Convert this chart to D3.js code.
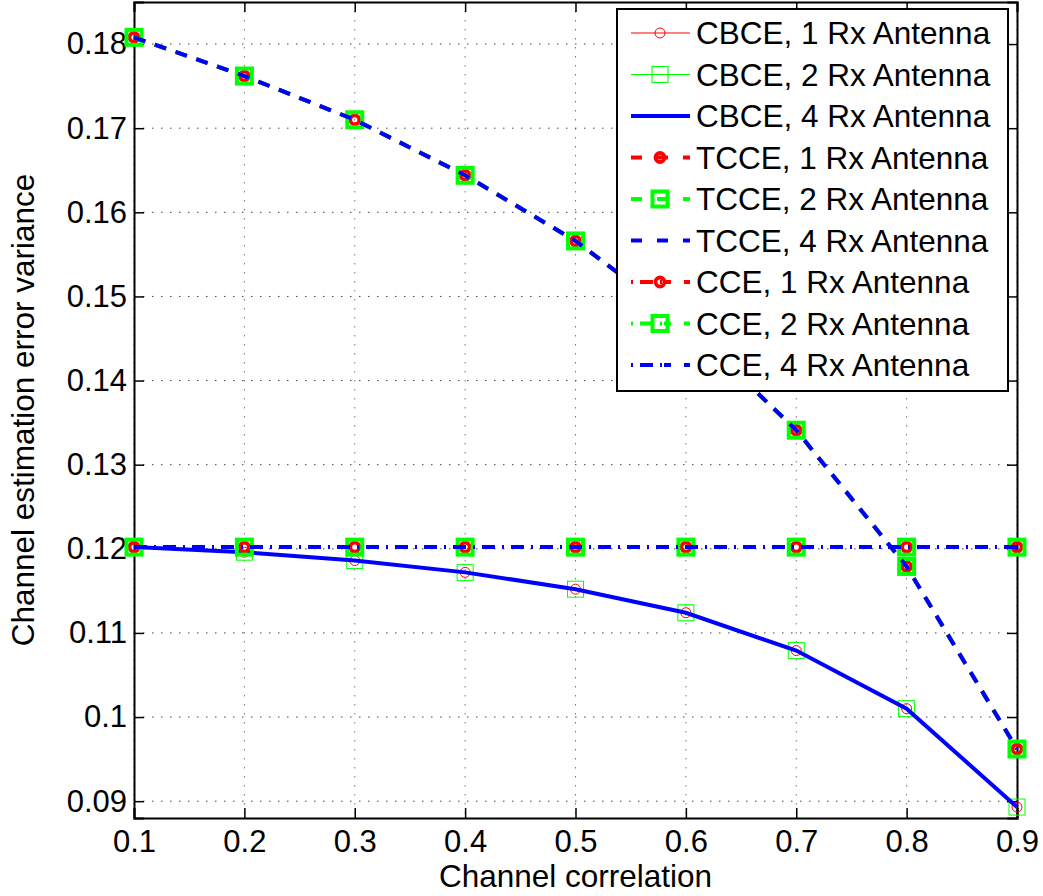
<!DOCTYPE html>
<html>
<head>
	<title>Channel estimation error variance</title>
	<script src="https://d3js.org/d3.v7.min.js"></script>
	<style>
		body { margin: 0; background: #fff; }
		text { font-family: "Liberation Sans", Arial, Helvetica, sans-serif; fill: #000; }
	</style>
</head>
<body>
	<svg width="1043" height="896" id="chart"></svg>
<script>
	// data
	var corr = [0.1, 0.2, 0.3, 0.4, 0.5, 0.6, 0.7, 0.8, 0.9]
	var cbceVar = [0.1202, 0.1196, 0.1186, 0.1172, 0.1152, 0.1124, 0.1079, 0.1010, 0.0893]
	var tcceVar = [0.1808, 0.1762, 0.1710, 0.1644, 0.1566, 0.1467, 0.1341, 0.1179, 0.0962]
	var cceVar = [0.1202, 0.1202, 0.1202, 0.1202, 0.1202, 0.1202, 0.1202, 0.1202, 0.1202]
	var xTicks = [0.1, 0.2, 0.3, 0.4, 0.5, 0.6, 0.7, 0.8, 0.9]
	var yTicks = [0.09, 0.1, 0.11, 0.12, 0.13, 0.14, 0.15, 0.16, 0.17, 0.18]
	var labels = ["CBCE, 1 Rx Antenna", "CBCE, 2 Rx Antenna", "CBCE, 4 Rx Antenna",
		"TCCE, 1 Rx Antenna", "TCCE, 2 Rx Antenna", "TCCE, 4 Rx Antenna",
		"CCE, 1 Rx Antenna", "CCE, 2 Rx Antenna", "CCE, 4 Rx Antenna"]

	var RED = "#ff0000", GREEN = "#00ff00", BLUE = "#0000ff"
	var DASH = "12,10", DASHDOT = "13,7,2,7"

	var series = [
		{name: labels[0], values: cbceVar, color: RED, width: 1, dash: null, marker: "circle-thin"},
		{name: labels[1], values: cbceVar, color: GREEN, width: 1, dash: null, marker: "square-thin"},
		{name: labels[2], values: cbceVar, color: BLUE, width: 4, dash: null, marker: null},
		{name: labels[3], values: tcceVar, color: RED, width: 4, dash: DASH, marker: "circle-thick"},
		{name: labels[4], values: tcceVar, color: GREEN, width: 4, dash: DASH, marker: "square-thick"},
		{name: labels[5], values: tcceVar, color: BLUE, width: 4, dash: DASH, marker: null},
		{name: labels[6], values: cceVar, color: RED, width: 4, dash: DASHDOT, marker: "circle-thick"},
		{name: labels[7], values: cceVar, color: GREEN, width: 4, dash: DASHDOT, marker: "square-thick"},
		{name: labels[8], values: cceVar, color: BLUE, width: 4, dash: DASHDOT, marker: null}
	]

	var svg = d3.select("#chart")
	var pLeft = 134, pRight = 1017, pTop = 2, pBottom = 818

	var x = d3.scaleLinear().domain([0.1, 0.9]).range([pLeft, pRight])
	var y = d3.scaleLinear().domain([0.088, 0.185]).range([pBottom, pTop])

	// grid
	var grid = svg.append("g")
	grid.selectAll("line.vg").data(xTicks).enter().append("line")
		.attr("x1", function(d) { return x(d) }).attr("x2", function(d) { return x(d) })
		.attr("y1", pTop).attr("y2", pBottom)
		.attr("stroke", "#777").attr("stroke-width", 1).attr("stroke-dasharray", "1.5,7.5")
	grid.selectAll("line.hg").data(yTicks).enter().append("line")
		.attr("x1", pLeft).attr("x2", pRight)
		.attr("y1", function(d) { return y(d) }).attr("y2", function(d) { return y(d) })
		.attr("stroke", "#444").attr("stroke-width", 1).attr("stroke-dasharray", "1.5,7.5")

	// axes (ticks inside, box)
	var fmt = function(d) { return d3.format("")(+d.toFixed(2)) }
	svg.append("g").attr("transform", "translate(0," + pBottom + ")")
		.call(d3.axisBottom(x).tickValues(xTicks).tickSize(-10).tickPadding(12).tickFormat(fmt))
	svg.append("g").attr("transform", "translate(0," + pTop + ")")
		.call(d3.axisTop(x).tickValues(xTicks).tickSize(-10).tickFormat(""))
	svg.append("g").attr("transform", "translate(" + pLeft + ",0)")
		.call(d3.axisLeft(y).tickValues(yTicks).tickSize(-10).tickPadding(7).tickFormat(fmt))
	svg.append("g").attr("transform", "translate(" + pRight + ",0)")
		.call(d3.axisRight(y).tickValues(yTicks).tickSize(-10).tickFormat(""))
	svg.selectAll(".domain").attr("stroke", "#000").attr("stroke-width", 2)
	svg.selectAll(".tick line").attr("stroke", "#000").attr("stroke-width", 1.5)
	svg.selectAll(".tick text").style("font-size", "31px")
		.style("font-family", "'Liberation Sans', Arial, sans-serif").attr("fill", "#000")

	// axis labels
	svg.append("text").attr("x", (pLeft + pRight) / 2).attr("y", 887)
		.attr("text-anchor", "middle").style("font-size", "31.5px").text("Channel correlation")
	svg.append("text").attr("transform", "translate(34," + (pTop + pBottom) / 2 + ") rotate(-90)")
		.attr("text-anchor", "middle").style("font-size", "31.5px").text("Channel estimation error variance")

	function drawMarker(sel, type, color) {
		if (type == "circle-thin")
			sel.append("circle").attr("r", 5).attr("fill", "none").attr("stroke", color).attr("stroke-width", 1)
		else if (type == "square-thin")
			sel.append("rect").attr("x", -8).attr("y", -8).attr("width", 16).attr("height", 16)
				.attr("fill", "none").attr("stroke", color).attr("stroke-width", 1)
		else if (type == "circle-thick")
			sel.append("circle").attr("r", 4.5).attr("fill", "none").attr("stroke", color).attr("stroke-width", 3.8)
		else if (type == "square-thick")
			sel.append("rect").attr("x", -7.5).attr("y", -7.5).attr("width", 15).attr("height", 15)
				.attr("fill", "none").attr("stroke", color).attr("stroke-width", 4)
	}

	var line = d3.line()
		.x(function(d, i) { return x(corr[i]) })
		.y(function(d) { return y(d) })

	var plot = svg.append("g")
	series.forEach(function(s) {
		plot.append("path")
			.datum(s.values)
			.attr("fill", "none")
			.attr("stroke", s.color)
			.attr("stroke-width", s.width)
			.attr("stroke-dasharray", s.dash)
			.attr("d", line)
		if (s.marker) {
			s.values.forEach(function(v, i) {
				var m = plot.append("g").attr("transform", "translate(" + x(corr[i]) + "," + y(v) + ")")
				drawMarker(m, s.marker, s.color)
			})
		}
	})

	// legend
	var lg = svg.append("g")
	lg.append("rect").attr("x", 617).attr("y", 9).attr("width", 391).attr("height", 382)
		.attr("fill", "#fff").attr("stroke", "#000").attr("stroke-width", 2)
	series.forEach(function(s, i) {
		var ly = 33 + i * 41.5
		lg.append("line").attr("x1", 631).attr("x2", 690).attr("y1", ly).attr("y2", ly)
			.attr("stroke", s.color).attr("stroke-width", s.width)
			.attr("stroke-dasharray", s.dash == DASH ? "11,15" : s.dash == DASHDOT ? "2,7,13,7,2" : null)
		if (s.marker) {
			var m = lg.append("g").attr("transform", "translate(660," + ly + ")")
			drawMarker(m, s.marker, s.color)
		}
		lg.append("text").attr("x", 696).attr("y", ly).attr("dy", "0.36em")
			.style("font-size", "31.5px").text(s.name)
	})
</script>
</body>
</html>
